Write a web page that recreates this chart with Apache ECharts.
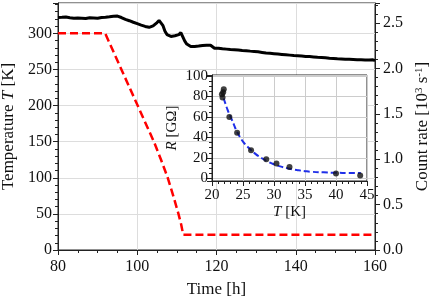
<!DOCTYPE html>
<html><head><meta charset="utf-8">
<script src="https://cdn.jsdelivr.net/npm/echarts@6/dist/echarts.min.js"></script>
<style>html,body{margin:0;padding:0;background:#fff}#c{width:436px;height:305px}</style>
</head><body><div id="c"></div>
<script>
// Temperature profile (left axis) [time h, T K]
const tempTimes = [80, 91.9, 104.2, 106, 107.7, 109.2, 110.4, 111.1, 111.6, 160];
const tempValues = [300, 300, 150, 125, 100, 73, 50, 35, 21, 21];

// Count rate (right axis), sampled every 0.5 h from 80 h
const countStart = 80, countStep = 0.5;
const countValues = [
2.560,2.548,2.562,2.552,2.566,2.550,2.558,2.564,2.551,2.563,
2.555,2.568,2.553,2.561,2.549,2.565,2.557,2.570,2.556,2.563,
2.552,2.567,2.560,2.571,2.562,2.576,2.568,2.584,2.575,2.588,
2.576,2.582,2.560,2.552,2.540,2.532,2.525,2.512,2.508,2.495,
2.492,2.480,2.476,2.470,2.462,2.456,2.452,2.460,2.468,2.480,
2.505,2.528,2.515,2.470,2.410,2.372,2.360,2.352,2.345,2.360,
2.356,2.372,2.395,2.375,2.300,2.268,2.252,2.240,2.236,2.242,
2.232,2.246,2.240,2.252,2.244,2.256,2.248,2.255,2.240,2.222,
2.214,2.222,2.210,2.216,2.204,2.212,2.200,2.208,2.198,2.206,
2.195,2.202,2.190,2.198,2.188,2.195,2.182,2.190,2.178,2.186,
2.174,2.182,2.170,2.176,2.162,2.170,2.158,2.166,2.154,2.162,
2.150,2.158,2.146,2.154,2.142,2.150,2.138,2.146,2.136,2.142,
2.132,2.140,2.128,2.136,2.126,2.132,2.122,2.130,2.118,2.126,
2.116,2.122,2.110,2.120,2.108,2.116,2.104,2.112,2.100,2.110,
2.098,2.106,2.095,2.104,2.094,2.100,2.090,2.100,2.088,2.098,
2.084,2.096,2.086,2.094,2.082,2.092,2.084,2.092,2.080,2.094,
2.086];

// Inset: resistance measurements
const rT = [21.7, 21.6, 21.8, 21.9, 22.8, 24.05, 26.3, 28.75, 30.4, 32.5, 40.0, 43.9];
const rR = [79, 82, 84, 87, 60, 44.5, 27.6, 18.8, 14.6, 11.3, 4.9, 2.9];
// Inset: fit curve
const fitT = [21.9, 22.5, 23, 23.5, 24, 25, 26, 27, 28, 29, 30, 31, 32, 33, 34, 35, 36, 38, 40, 42, 44];
const fitR = [78, 67, 60, 53, 46, 36, 29.5, 24, 20, 16.5, 13.8, 11.8, 10.2, 8.9, 8.0, 7.2, 6.6, 6.0, 5.6, 5.4, 5.3];

const FONT = 'Liberation Serif';
const AX = '#222';
const zip = (a, b) => a.map((v, i) => [v, b[i]]);

const chart = echarts.init(document.getElementById('c'), null, {renderer: 'canvas'});

const tickMajor = {show: true, inside: false, length: 5, lineStyle: {color: AX, width: 1}};
const tickMinor = (n) => ({show: true, splitNumber: n, length: 3, lineStyle: {color: AX, width: 1}});
const lbl = (size, margin, fmt) => ({fontFamily: FONT, fontSize: size, color: '#111', margin: margin, formatter: fmt});
const nameStyle = (size) => ({
  fontFamily: FONT, fontSize: size, color: '#111',
  rich: {
    n: {fontFamily: FONT, fontSize: size, color: '#111'},
    i: {fontFamily: FONT, fontSize: size, color: '#111', fontStyle: 'italic'},
    s: {fontFamily: FONT, fontSize: Math.round(size * 0.65), color: '#111', verticalAlign: 'top', lineHeight: 8}
  }
});

chart.setOption({
  animation: false,
  backgroundColor: '#fff',
  grid: [
    {left: 58, right: 61, top: 3, bottom: 55, containLabel: false, outerBoundsMode: 'none',
     show: true, borderColor: AX, borderWidth: 1, backgroundColor: 'transparent', z: 0},
    {left: 212, top: 75, width: 155, height: 106, containLabel: false, outerBoundsMode: 'none',
     show: true, borderColor: AX, borderWidth: 1, backgroundColor: '#fff', z: 5}
  ],
  xAxis: [
    {type: 'value', gridIndex: 0, min: 80, max: 160, interval: 20,
     name: 'Time [h]', nameLocation: 'middle', nameGap: 31, nameTextStyle: nameStyle(17),
     axisLine: {show: true, onZero: false, lineStyle: {color: AX}},
     axisTick: tickMajor, minorTick: tickMinor(4),
     axisLabel: lbl(16, 9),
     splitLine: {show: true, lineStyle: {color: '#ddd', width: 1}}},
    {type: 'value', gridIndex: 1, min: 20, max: 45, interval: 5, z: 6,
     name: '{i|T}{n| [K]}', nameLocation: 'middle', nameGap: 24, nameTextStyle: nameStyle(15),
     axisLine: {show: true, onZero: false, lineStyle: {color: AX}},
     axisTick: tickMajor, minorTick: tickMinor(5),
     axisLabel: lbl(15, 7),
     splitLine: {show: true, lineStyle: {color: '#ccc', width: 1}}}
  ],
  yAxis: [
    {type: 'value', gridIndex: 0, min: 0, max: 342, interval: 50, position: 'left',
     name: '{n|Temperature }{i|T}{n| [K]}', nameLocation: 'middle', nameGap: 37, nameRotate: 90, nameTextStyle: nameStyle(17),
     axisLine: {show: true, onZero: false, lineStyle: {color: AX}},
     axisTick: tickMajor, minorTick: tickMinor(5),
     axisLabel: lbl(16, 6, v => (v % 50 === 0 ? String(v) : '')),
     splitLine: {show: true, lineStyle: {color: '#ddd', width: 1}}},
    {type: 'value', gridIndex: 0, min: 0, max: 2.72, interval: 0.5, position: 'right',
     name: '{n|Count rate [10}{s|3}{n| s}{s|-1}{n|]}', nameLocation: 'middle', nameGap: 37, nameRotate: 90, nameTextStyle: nameStyle(17),
     axisLine: {show: true, onZero: false, lineStyle: {color: AX}},
     axisTick: tickMajor, minorTick: tickMinor(5),
     axisLabel: lbl(16, 8, v => (Math.abs(v * 2 - Math.round(v * 2)) < 1e-6 ? v.toFixed(1) : '')),
     splitLine: {show: false}},
    {type: 'value', gridIndex: 1, min: -2.4, max: 100.8, z: 6,
     name: '{i|R}{n| [GΩ]}', nameLocation: 'middle', nameGap: 32, nameRotate: 90, nameTextStyle: nameStyle(15),
     axisLine: {show: true, onZero: false, lineStyle: {color: AX}},
     axisTick: tickMajor, minorTick: tickMinor(4),
     axisLabel: lbl(15, 4, v => (Math.abs(v % 20) < 1e-6 ? String(v) : '')),
     splitLine: {show: true, lineStyle: {color: '#ccc', width: 1}}}
  ],
  series: [
    {type: 'line', xAxisIndex: 0, yAxisIndex: 1, showSymbol: false, symbol: 'none',
     data: countValues.map((v, i) => [countStart + i * countStep, v]),
     lineStyle: {color: '#000', width: 3}, z: 2},
    {type: 'line', xAxisIndex: 0, yAxisIndex: 0, symbol: 'none',
     data: zip(tempTimes, tempValues),
     lineStyle: {color: '#ff0000', width: 2.5, type: [8, 4]}, z: 3},
    {type: 'line', xAxisIndex: 1, yAxisIndex: 2, symbol: 'none', smooth: true,
     data: zip(fitT, fitR),
     lineStyle: {color: '#1f2fe8', width: 2, type: [6, 3]}, z: 7},
    {type: 'scatter', xAxisIndex: 1, yAxisIndex: 2, symbol: 'circle', symbolSize: 6,
     data: zip(rT, rR),
     itemStyle: {color: '#111'}, z: 8}
  ]
});
</script></body></html>
